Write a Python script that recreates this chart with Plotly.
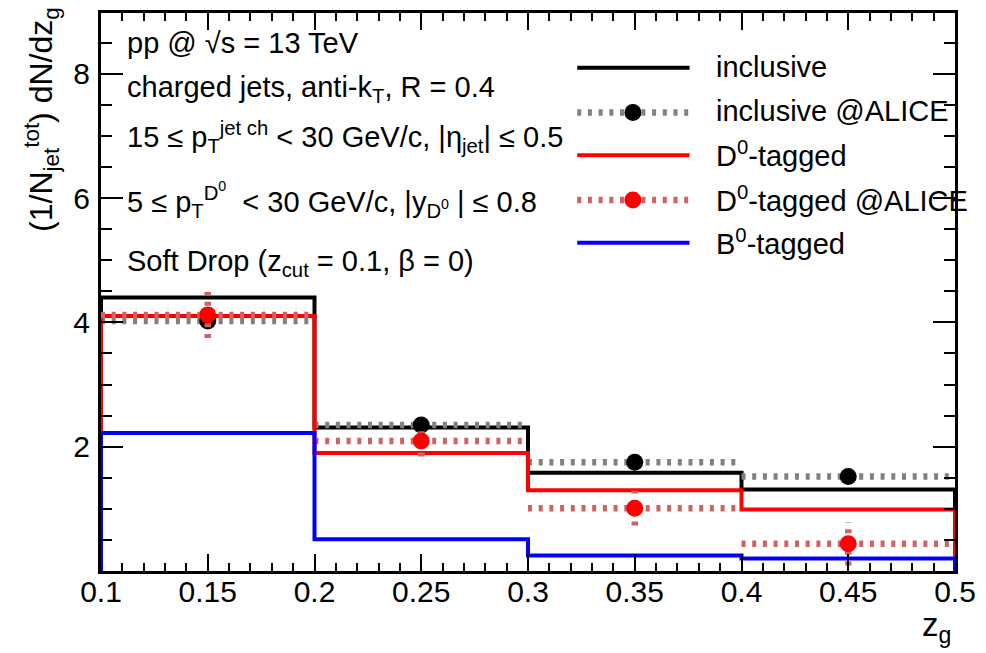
import plotly.graph_objects as go

# ---------------- data ----------------
bin_edges = [0.1, 0.2, 0.3, 0.4, 0.5]
bin_centers = [0.15, 0.25, 0.35, 0.45]
inclusive = [4.40, 2.31, 1.58, 1.31]
inclusive_alice = [4.02, 2.35, 1.75, 1.52]
inclusive_alice_err = [0.08, 0.06, 0.06, 0.06]
d0_tagged = [4.10, 1.90, 1.30, 0.99]
d0_alice = [4.12, 2.09, 1.01, 0.44]
d0_alice_err = [0.37, 0.25, 0.28, 0.35]
b0_tagged = [2.22, 0.51, 0.25, 0.20]

y_tick_vals = [2, 4, 6, 8]
legend_labels = ["inclusive", "inclusive @ALICE", "D<sup>0</sup>-tagged",
                 "D<sup>0</sup>-tagged @ALICE", "B<sup>0</sup>-tagged"]
info_lines = [
    "pp @ √s = 13 TeV",
    "charged jets, anti-k<sub>T</sub>, R = 0.4",
    "15 ≤ p<sub>T</sub><sup>jet ch</sup> &lt; 30 GeV/c, |η<sub>jet</sub>| ≤ 0.5",
    "5 ≤ p<sub>T</sub><sup>D<sup>0</sup></sup>  &lt; 30 GeV/c, |y<sub>D<sup>0</sup></sub> | ≤ 0.8",
    "Soft Drop (z<sub>cut</sub> = 0.1, β = 0)",
]
y_title = "(1/N<sub>jet</sub><sup>tot</sup>) dN/dz<sub>g</sub>"
x_title = "z<sub>g</sub>"

FONT = "Liberation Sans, Arial, Helvetica, sans-serif"
BLACK = "#000000"
GREY = "#808080"
RED = "#ff0000"
IRED = "#d06262"
BLUE = "#0000ff"
DOT = "4px,6.7px"
DOTW = 6.5

# plot area in pixels
L, R, T, B = 101, 960, 10, 571
W, H = 986, 653


def px(x):
    return (x - L) / (R - L)


def py(y):
    return (B - y) / (B - T)


def step_xy(edges, vals):
    xs = [edges[0]] + list(edges[:-1]) + [edges[-1], edges[-1]]
    ys = [0] + list(vals) + [vals[-1], 0]
    return xs, ys


def hseg(edges, vals):
    xs, ys = [], []
    for i, v in enumerate(vals):
        xs += [edges[i], edges[i + 1], None]
        ys += [v, v, None]
    return xs, ys


def vseg(centers, vals, errs):
    xs, ys = [], []
    for c, v, e in zip(centers, vals, errs):
        xs += [c, c, None]
        ys += [v - e, v + e, None]
    return xs, ys


fig = go.Figure()

# inclusive histogram
sx, sy = step_xy(bin_edges, inclusive)
fig.add_trace(go.Scatter(x=sx, y=sy, mode="lines", line=dict(color=BLACK, width=4, shape="hv"),
                         showlegend=False, hoverinfo="skip"))

# inclusive @ALICE
hx, hy = hseg(bin_edges, inclusive_alice)
fig.add_trace(go.Scatter(x=hx, y=hy, mode="lines", line=dict(color=GREY, width=DOTW, dash=DOT),
                         showlegend=False, hoverinfo="skip"))
vx, vy = vseg(bin_centers, inclusive_alice, inclusive_alice_err)
fig.add_trace(go.Scatter(x=vx, y=vy, mode="lines", line=dict(color=GREY, width=DOTW, dash=DOT),
                         showlegend=False, hoverinfo="skip"))
fig.add_trace(go.Scatter(x=bin_centers, y=inclusive_alice, mode="markers",
                         marker=dict(color=BLACK, size=17), showlegend=False))

# D0 histogram
sx, sy = step_xy(bin_edges, d0_tagged)
fig.add_trace(go.Scatter(x=sx, y=sy, mode="lines", line=dict(color=RED, width=4, shape="hv"),
                         showlegend=False, hoverinfo="skip"))

# D0 @ALICE
hx, hy = hseg(bin_edges, d0_alice)
fig.add_trace(go.Scatter(x=hx, y=hy, mode="lines", line=dict(color=IRED, width=DOTW, dash=DOT),
                         showlegend=False, hoverinfo="skip"))
vx, vy = vseg(bin_centers, d0_alice, d0_alice_err)
fig.add_trace(go.Scatter(x=vx, y=vy, mode="lines", line=dict(color=IRED, width=DOTW, dash=DOT),
                         showlegend=False, hoverinfo="skip"))
fig.add_trace(go.Scatter(x=bin_centers, y=d0_alice, mode="markers",
                         marker=dict(color=RED, size=17), showlegend=False))

# B0 histogram
sx, sy = step_xy(bin_edges, b0_tagged)
fig.add_trace(go.Scatter(x=sx, y=sy, mode="lines", line=dict(color=BLUE, width=4, shape="hv"),
                         showlegend=False, hoverinfo="skip"))

# ---------------- manual legend ----------------
shapes = []
annotations = []
leg_rows = [65, 110, 153, 198, 241]
leg_styles = [
    (BLACK, 4, "solid", None),
    (GREY, DOTW, DOT, BLACK),
    (RED, 4, "solid", None),
    (IRED, DOTW, DOT, RED),
    (BLUE, 4, "solid", None),
]
for yy, (col, lw, dash, mcol), lab in zip(leg_rows, leg_styles, legend_labels):
    shapes.append(dict(type="line", xref="paper", yref="paper",
                       x0=px(580), x1=px(693), y0=py(yy), y1=py(yy),
                       line=dict(color=col, width=lw, dash=dash)))
    if mcol:
        shapes.append(dict(type="circle", xref="paper", yref="paper",
                           xsizemode="pixel", ysizemode="pixel",
                           xanchor=px(636), yanchor=py(yy),
                           x0=-8.5, x1=8.5, y0=-8.5, y1=8.5,
                           fillcolor=mcol, line=dict(width=0)))
    annotations.append(dict(text=lab, xref="paper", yref="paper", x=px(718), y=py(yy - 1),
                            xanchor="left", yanchor="middle", showarrow=False,
                            font=dict(family=FONT, size=29, color=BLACK)))

info_y = [40, 86, 135, 198, 261]
for yy, txt in zip(info_y, info_lines):
    annotations.append(dict(text=txt, xref="paper", yref="paper", x=px(125), y=py(yy),
                            xanchor="left", yanchor="middle", showarrow=False,
                            font=dict(family=FONT, size=29, color=BLACK)))

annotations.append(dict(text=y_title, xref="paper", yref="paper", x=px(41), y=py(2),
                        xanchor="center", yanchor="top", textangle=-90, showarrow=False,
                        font=dict(family=FONT, size=32, color=BLACK)))
annotations.append(dict(text=x_title, xref="paper", yref="paper", x=px(958), y=py(604),
                        xanchor="right", yanchor="top", showarrow=False,
                        font=dict(family=FONT, size=33, color=BLACK)))

axis_common = dict(showgrid=False, zeroline=False, showline=True, linecolor=BLACK, linewidth=3,
                   mirror="ticks", ticks="inside", tickcolor=BLACK, tickwidth=1.5,
                   tickfont=dict(family=FONT, size=30, color=BLACK))

fig.update_layout(
    width=W, height=H,
    margin=dict(l=L, r=W - R, t=T, b=H - B),
    paper_bgcolor="white", plot_bgcolor="white",
    xaxis=dict(range=[0.1, 0.5], dtick=0.05, tick0=0.1, ticklen=17, ticklabelstandoff=-8,
               minor=dict(dtick=0.01, ticklen=8, ticks="inside", tickcolor=BLACK, tickwidth=1.5),
               **axis_common),
    yaxis=dict(range=[0, (B - T) / 62.5], tickmode="array", tickvals=y_tick_vals,
               ticktext=[str(v) for v in y_tick_vals], ticklen=22,
               ticklabelstandoff=2,
               minor=dict(tickmode="linear", tick0=0, dtick=0.5, ticklen=11, ticks="inside",
                          tickcolor=BLACK, tickwidth=1.5),
               **axis_common),
    shapes=shapes,
    annotations=annotations,
    showlegend=False,
)

fig.write_html("out.html")
